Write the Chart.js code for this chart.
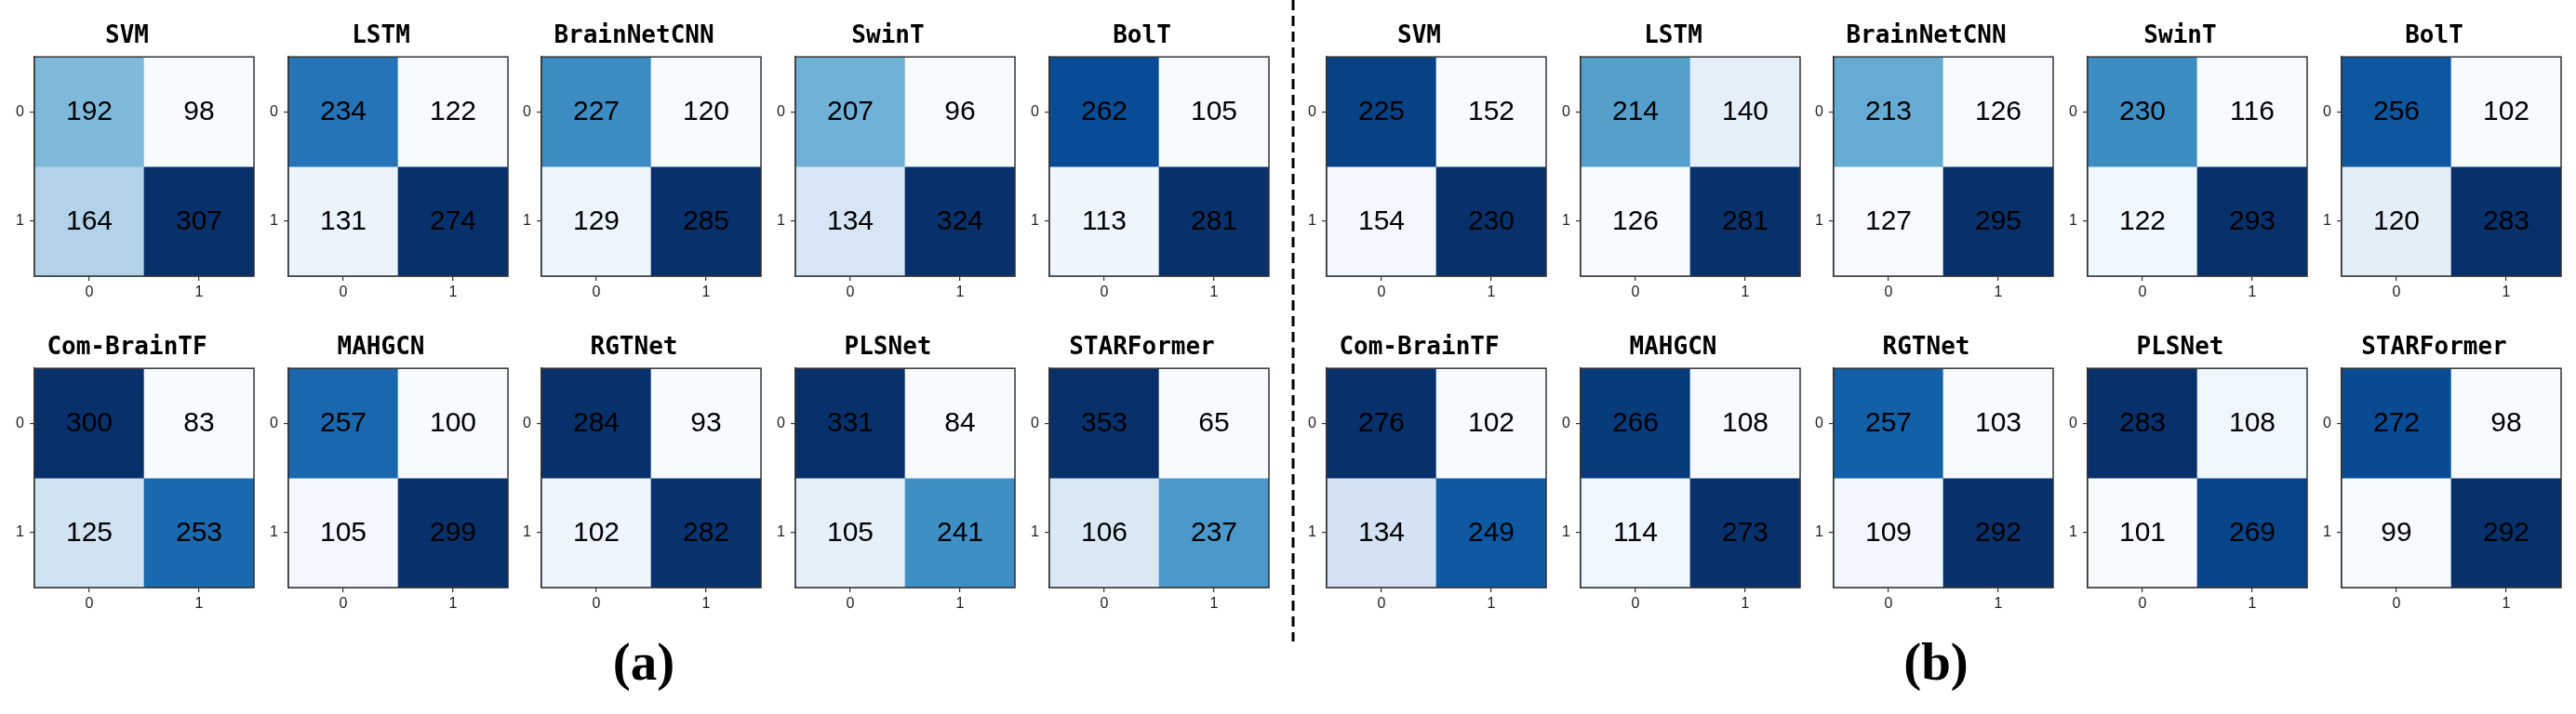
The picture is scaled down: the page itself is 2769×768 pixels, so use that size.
<!DOCTYPE html>
<html>
<head>
<meta charset="utf-8">
<script src="https://cdn.jsdelivr.net/npm/chart.js@4.4.1/dist/chart.umd.min.js"></script>
<style>
body { margin: 0; background: #fff; }
#wrap { position: relative; width: 2769px; height: 768px; overflow: hidden; background: #fff; }
#wrap canvas { position: absolute; }
.tag { position: absolute; font-family: "Liberation Serif"; font-weight: bold; font-size: 57px; line-height: 1; transform: translate(-50%, -50%); color: #000; }
</style>
</head>
<body>
<div id="wrap">
  <canvas id="sep" width="20" height="768" style="left:1380px;top:0"></canvas>
  <div class="tag" style="left:692px;top:711px">(a)</div>
  <div class="tag" style="left:2081px;top:711px">(b)</div>
</div>
<script>
var models = ["SVM", "LSTM", "BrainNetCNN", "SwinT", "BolT",
              "Com-BrainTF", "MAHGCN", "RGTNet", "PLSNet", "STARFormer"];
var classLabels = ["0", "1"];

// each matrix row-major: [true0/pred0, true0/pred1, true1/pred0, true1/pred1]
var matricesA = [
  [192, 98, 164, 307],
  [234, 122, 131, 274],
  [227, 120, 129, 285],
  [207, 96, 134, 324],
  [262, 105, 113, 281],
  [300, 83, 125, 253],
  [257, 100, 105, 299],
  [284, 93, 102, 282],
  [331, 84, 105, 241],
  [353, 65, 106, 237]
];
var matricesB = [
  [225, 152, 154, 230],
  [214, 140, 126, 281],
  [213, 126, 127, 295],
  [230, 116, 122, 293],
  [256, 102, 120, 283],
  [276, 102, 134, 249],
  [266, 108, 114, 273],
  [257, 103, 109, 292],
  [283, 108, 101, 269],
  [272, 98, 99, 292]
];

// matplotlib "Blues"
var bluesStops = ["#f7fbff", "#deebf7", "#c6dbef", "#9ecae1", "#6baed6",
                  "#4292c6", "#2171b5", "#08519c", "#08306b"];

function hexRgb(h) {
  return [parseInt(h.substr(1, 2), 16), parseInt(h.substr(3, 2), 16), parseInt(h.substr(5, 2), 16)];
}

function blues(t) {
  t = Math.max(0, Math.min(1, t));
  var p = t * (bluesStops.length - 1);
  var i = Math.min(Math.floor(p), bluesStops.length - 2);
  var f = p - i;
  var a = hexRgb(bluesStops[i]), b = hexRgb(bluesStops[i + 1]);
  var c = a.map(function (v, k) { return Math.round(v + (b[k] - v) * f); });
  return "rgb(" + c.join(",") + ")";
}

// draws frame and the counts in each cell
function cellPlugin(values) {
  return {
    id: "cellText",
    afterDatasetsDraw: function (chart) {
      var ctx = chart.ctx, a = chart.chartArea;
      var xs = chart.scales.x, ys = chart.scales.y;
      ctx.save();
      ctx.fillStyle = "#000";
      ctx.font = '30px "Liberation Sans"';
      ctx.textAlign = "center";
      ctx.textBaseline = "middle";
      for (var r = 0; r < 2; r++) {
        for (var c = 0; c < 2; c++) {
          ctx.fillText(String(values[r * 2 + c]), xs.getPixelForValue(c), ys.getPixelForValue(r) + 1);
        }
      }
      ctx.strokeStyle = "#333";
      ctx.lineWidth = 1.5;
      ctx.strokeRect(a.left, a.top, a.right - a.left, a.bottom - a.top);
      ctx.restore();
    }
  };
}

function makePanel(title, values, left, top) {
  var cv = document.createElement("canvas");
  cv.width = 275;
  cv.height = 335;
  cv.style.left = left + "px";
  cv.style.top = top + "px";
  document.getElementById("wrap").appendChild(cv);

  var mn = Math.min.apply(null, values), mx = Math.max.apply(null, values);
  var datasets = [0, 1].map(function (r) {
    return {
      data: [0, 1].map(function () { return [r - 0.5, r + 0.5]; }),
      backgroundColor: [0, 1].map(function (c) { return blues((values[r * 2 + c] - mn) / (mx - mn)); }),
      borderWidth: 0,
      barPercentage: 1,
      categoryPercentage: 1,
      grouped: false
    };
  });

  new Chart(cv.getContext("2d"), {
    type: "bar",
    data: { labels: classLabels, datasets: datasets },
    options: {
      responsive: false,
      animation: false,
      devicePixelRatio: 1,
      layout: { padding: { left: 0, right: 2, top: 0, bottom: 0 } },
      plugins: {
        legend: { display: false },
        tooltip: { enabled: false },
        title: {
          display: true,
          text: title,
          color: "#000",
          font: { family: "DejaVu Sans Mono", size: 26, weight: "bold", lineHeight: 1.2 },
          padding: { top: 24, bottom: 6 }
        }
      },
      scales: {
        x: {
          type: "category",
          offset: true,
          afterFit: function (s) { s.height = 38; },
          grid: { offset: false, drawOnChartArea: false, tickLength: 5, color: "#333", lineWidth: 1.2 },
          border: { display: true, color: "#333", width: 1.5 },
          ticks: { color: "#222", padding: 3, font: { family: "Liberation Sans", size: 16 } }
        },
        y: {
          type: "linear",
          min: -0.5,
          max: 1.5,
          reverse: true,
          afterBuildTicks: function (s) { s.ticks = [{ value: 0 }, { value: 1 }]; },
          afterFit: function (s) { s.width = 37; },
          grid: { drawOnChartArea: false, tickLength: 5, color: "#333", lineWidth: 1.2 },
          border: { display: true, color: "#333", width: 1.5 },
          ticks: {
            color: "#222",
            padding: 6,
            font: { family: "Liberation Sans", size: 16 },
            callback: function (v) { return classLabels[v]; }
          }
        }
      }
    },
    plugins: [cellPlugin(values)]
  });
}

var step = 272.7;
[ { m: matricesA, x0: 37 }, { m: matricesB, x0: 1426 } ].forEach(function (g) {
  g.m.forEach(function (vals, i) {
    var row = Math.floor(i / 5), col = i % 5;
    makePanel(models[i], vals, Math.round(g.x0 + col * step) - 37, row * 335);
  });
});

// dashed divider between (a) and (b)
var sctx = document.getElementById("sep").getContext("2d");
sctx.strokeStyle = "#000";
sctx.lineWidth = 3;
sctx.setLineDash([11, 6]);
sctx.beginPath();
sctx.moveTo(10, 0);
sctx.lineTo(10, 690);
sctx.stroke();
</script>
</body>
</html>
